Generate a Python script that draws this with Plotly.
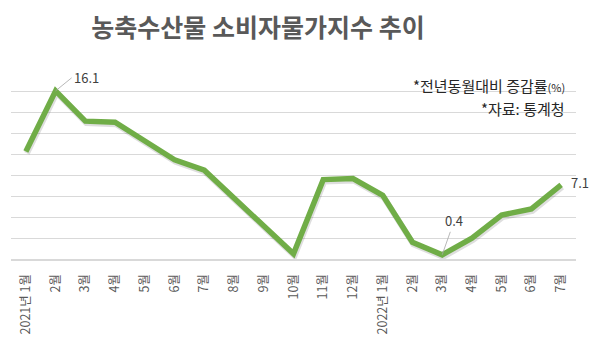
import plotly.graph_objects as go

months = ["2021년 1월", "2월", "3월", "4월", "5월", "6월", "7월", "8월", "9월", "10월",
          "11월", "12월", "2022년 1월", "2월", "3월", "4월", "5월", "6월", "7월"]
values = [10.3, 16.1, 13.2, 13.1, 11.3, 9.5, 8.5, 5.8, 3.2, 0.5,
          7.6, 7.7, 6.1, 1.6, 0.4, 2.0, 4.2, 4.8, 7.1]
title_text = "농축수산물 소비자물가지수 추이"
note1 = "*전년동월대비 증감률<span style='font-size:11px'>(%)</span>"
note2 = "*자료: 통계청"

x = list(range(len(months)))
FONT = "Noto Sans CJK KR"

fig = go.Figure()
# invisible trace on the base axes (holds the category axis / grid)
fig.add_trace(go.Scatter(x=x, y=values, mode="lines", line=dict(width=0),
                         opacity=0, hoverinfo="skip", showlegend=False))
# soft shadow under the line (same data on slightly shifted axes)
fig.add_trace(go.Scatter(x=x, y=values, mode="lines", xaxis="x2", yaxis="y2",
                         line=dict(color="rgba(0,0,0,0.13)", width=6),
                         hoverinfo="skip", showlegend=False))
# main line on top
fig.add_trace(go.Scatter(x=x, y=values, mode="lines", xaxis="x3", yaxis="y3",
                         line=dict(color="#70AD47", width=5.5),
                         showlegend=False))

W, H = 592, 351
ml, mr, mt, mb = 11, 16, 71, 92
pw = W - ml - mr
ph = H - mt - mb
dx = 1.0 * (len(months)) / pw
dy = 2.0 * 18 / ph
xr = [-0.5, len(months) - 0.5]

fig.update_layout(
    width=W, height=H,
    margin=dict(l=ml, r=mr, t=mt, b=mb),
    paper_bgcolor="white", plot_bgcolor="white",
    title=dict(text=title_text, x=258 / W, xref="container", xanchor="center",
               y=1 - 28 / H, yref="container", yanchor="middle",
               font=dict(family=FONT, size=25, color="#595959", weight="bold")),
    xaxis=dict(range=xr, tickmode="array", tickvals=x,
               ticktext=months, tickangle=-90, showgrid=False,
               showline=True, linecolor="#D9D9D9", linewidth=2,
               ticks="", ticklabelstandoff=8,
               tickfont=dict(family=FONT, size=12.5, color="#595959"),
               zeroline=False, fixedrange=True),
    yaxis=dict(range=[0, 18], dtick=2, showgrid=True, gridcolor="#D9D9D9",
               gridwidth=1, showticklabels=False, zeroline=False, ticks=""),
    xaxis2=dict(range=[xr[0] - dx, xr[1] - dx], overlaying="x", visible=False),
    yaxis2=dict(range=[0 + dy, 18 + dy], overlaying="y", visible=False),
    xaxis3=dict(range=xr, overlaying="x", visible=False),
    yaxis3=dict(range=[0, 18], overlaying="y", visible=False),
    font=dict(family=FONT),
)

fig.add_annotation(x=1, y=values[1], text="16.1", showarrow=True, arrowhead=0,
                   arrowwidth=0.8, arrowcolor="#A6A6A6", ax=16, ay=-13,
                   xanchor="left", yanchor="middle",
                   font=dict(family=FONT, size=13, color="#404040"))
fig.add_annotation(x=14, y=values[14], text="0.4", showarrow=True, arrowhead=0,
                   arrowwidth=0.8, arrowcolor="#A6A6A6", ax=12, ay=-34,
                   font=dict(family=FONT, size=13, color="#404040"))
fig.add_annotation(x=18, y=values[18], text="7.1", showarrow=False,
                   xanchor="left", xshift=8, yshift=2,
                   font=dict(family=FONT, size=13, color="#404040"))
fig.add_annotation(x=567 / W, y=1 - 85 / H, xref="paper", yref="paper",
                   text=note1, showarrow=False, xanchor="right", yanchor="middle",
                   font=dict(family=FONT, size=15, color="#262626"))
fig.add_annotation(x=567 / W, y=1 - 108 / H, xref="paper", yref="paper",
                   text=note2, showarrow=False, xanchor="right", yanchor="middle",
                   font=dict(family=FONT, size=15, color="#262626"))

# convert note positions from container fraction to paper fraction
for a in fig.layout.annotations[3:]:
    a.x = (a.x * W - ml) / pw
    a.y = ((a.y * H) - mb) / ph

fig.write_html("out.html")
